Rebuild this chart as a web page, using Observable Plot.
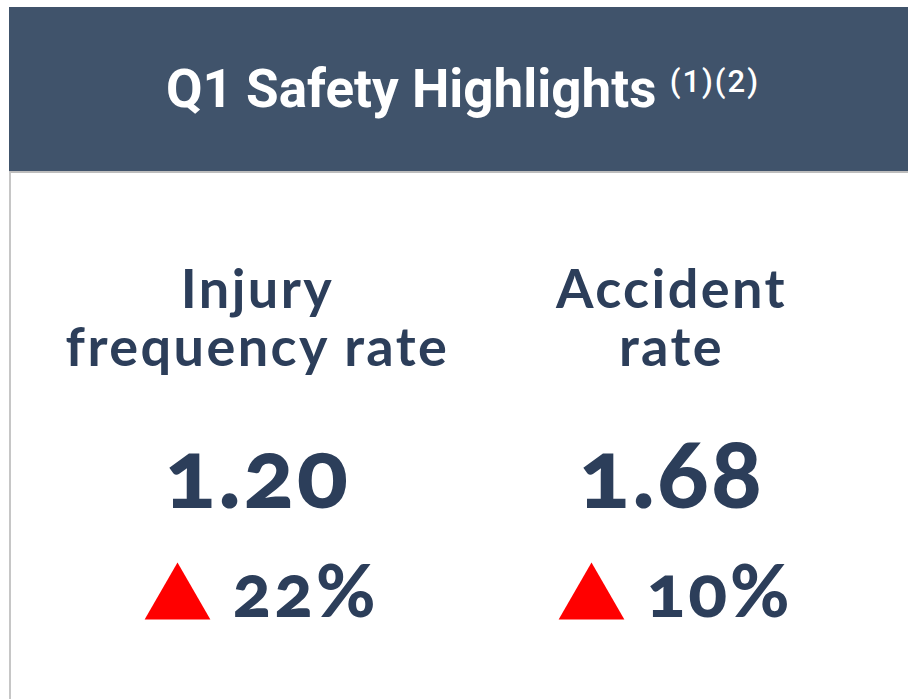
<!DOCTYPE html>
<html><head><meta charset="utf-8">
<script src="https://cdn.jsdelivr.net/npm/d3@7"></script>
<script src="https://cdn.jsdelivr.net/npm/@observablehq/plot@0.6"></script>
<style>
html,body{margin:0;padding:0;background:#fff;width:908px;height:699px;overflow:hidden}
#header{position:absolute;left:9px;top:7px;width:899px;height:164px;background:#40536b}
#title{position:absolute;left:157px;top:56px;white-space:nowrap;font-family:Roboto;font-weight:700;font-size:53px;line-height:53px;color:#fff}
#title sup{font-size:31px;font-weight:500;letter-spacing:2px;vertical-align:baseline;position:relative;top:-15px}
#card{position:absolute;left:9px;top:171px;width:899px;height:528px;border-left:2px solid #c6c6c6;border-top:2px solid #bdbdbd;box-sizing:border-box}
#chart{position:absolute;left:11px;top:173px}
</style></head><body>
<div id="header"><div id="title"><span id="t"></span> <sup id="fn"></sup></div></div>
<div id="card"></div>
<div id="chart"></div>
<script>
const title = "Q1 Safety Highlights";
const footnotes = "(1)(2)";
const metrics = ["Injury\nfrequency rate", "Accident\nrate"];
const values = [1.20, 1.68];
const changes = [22, 10];

document.getElementById("t").textContent = title;
document.getElementById("fn").textContent = footnotes;

const rows = metrics.map((m, i) => ({metric: m, value: values[i], change: changes[i]}));
const navy = "#2c3e5a";

const chart = Plot.plot({
  width: 897, height: 526,
  marginTop: 0, marginBottom: 0, marginLeft: 39, marginRight: 30,
  x: {type: "band", domain: metrics, padding: 0, axis: null},
  style: {fontVariantNumeric: "oldstyle-nums", background: "transparent"},
  marks: [
    Plot.text(rows, {x: "metric", text: "metric", frameAnchor: "top", dy: 192, lineAnchor: "bottom", lineHeight: 1.07,
      fontFamily: "Lato", fontWeight: 700, fontSize: 54, fill: navy, className: "lbl"}),
    Plot.text(rows, {x: "metric", text: d => d.value.toFixed(2), frameAnchor: "top", dy: 334, lineAnchor: "bottom",
      fontFamily: "Lato", fontWeight: 900, fontSize: 95, fill: navy, className: "val"}),
    Plot.dot(rows, {x: "metric", frameAnchor: "top", dy: 427, dx: -80, symbol: "triangle", r: 24.4, fill: "#ff0000"}),
    Plot.text(rows, {x: "metric", text: d => d.change + "%", frameAnchor: "top", dy: 443, dx: -25, textAnchor: "start", lineAnchor: "bottom",
      fontFamily: "Lato", fontWeight: 900, fontSize: 72, fill: navy, className: "chg"})
  ]
});
d3.select(chart).selectAll(".lbl text").style("letter-spacing", "0.045em");
d3.select(chart).selectAll(".val text").style("letter-spacing", "0.025em");
d3.select(chart).selectAll(".chg text").style("letter-spacing", "0.04em");
document.getElementById("chart").appendChild(chart);
</script>
</body></html>
